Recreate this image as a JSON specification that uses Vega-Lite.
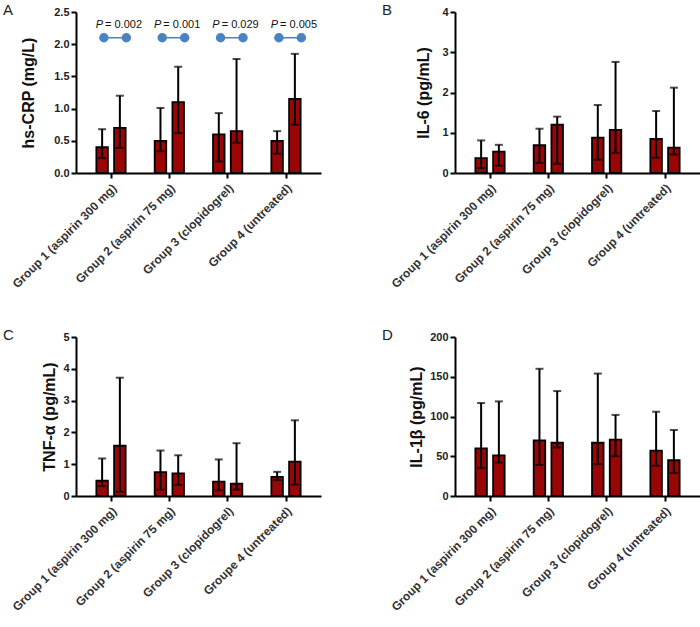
{
  "$schema": "https://vega.github.io/schema/vega-lite/v6.json",
  "background": "white",
  "padding": {"left": 3, "top": 3, "right": 0, "bottom": 0},
  "datasets": {
    "crp": [
      {"group": "Group 1 (aspirin 300 mg)", "series": "a", "value": 0.40, "lo": 0.23, "hi": 0.68},
      {"group": "Group 1 (aspirin 300 mg)", "series": "b", "value": 0.70, "lo": 0.39, "hi": 1.20},
      {"group": "Group 2 (aspirin 75 mg)", "series": "a", "value": 0.50, "lo": 0.34, "hi": 1.01},
      {"group": "Group 2 (aspirin 75 mg)", "series": "b", "value": 1.10, "lo": 0.62, "hi": 1.65},
      {"group": "Group 3 (clopidogrel)", "series": "a", "value": 0.60, "lo": 0.18, "hi": 0.93},
      {"group": "Group 3 (clopidogrel)", "series": "b", "value": 0.65, "lo": 0.47, "hi": 1.77},
      {"group": "Group 4 (untreated)", "series": "a", "value": 0.50, "lo": 0.30, "hi": 0.65},
      {"group": "Group 4 (untreated)", "series": "b", "value": 1.15, "lo": 0.75, "hi": 1.85}
    ],
    "pdots": [
      {"group": "Group 1 (aspirin 300 mg)", "series": "a", "y": 2.1},
      {"group": "Group 1 (aspirin 300 mg)", "series": "b", "y": 2.1},
      {"group": "Group 2 (aspirin 75 mg)", "series": "a", "y": 2.1},
      {"group": "Group 2 (aspirin 75 mg)", "series": "b", "y": 2.1},
      {"group": "Group 3 (clopidogrel)", "series": "a", "y": 2.1},
      {"group": "Group 3 (clopidogrel)", "series": "b", "y": 2.1},
      {"group": "Group 4 (untreated)", "series": "a", "y": 2.1},
      {"group": "Group 4 (untreated)", "series": "b", "y": 2.1}
    ],
    "ptext": [
      {"group": "Group 1 (aspirin 300 mg)", "p": "= 0.002", "y": 2.3},
      {"group": "Group 2 (aspirin 75 mg)", "p": "= 0.001", "y": 2.3},
      {"group": "Group 3 (clopidogrel)", "p": "= 0.029", "y": 2.3},
      {"group": "Group 4 (untreated)", "p": "= 0.005", "y": 2.3}
    ],
    "il6": [
      {"group": "Group 1 (aspirin 300 mg)", "series": "a", "value": 0.37, "lo": 0.12, "hi": 0.81},
      {"group": "Group 1 (aspirin 300 mg)", "series": "b", "value": 0.53, "lo": 0.18, "hi": 0.70},
      {"group": "Group 2 (aspirin 75 mg)", "series": "a", "value": 0.69, "lo": 0.25, "hi": 1.10},
      {"group": "Group 2 (aspirin 75 mg)", "series": "b", "value": 1.20, "lo": 0.23, "hi": 1.40},
      {"group": "Group 3 (clopidogrel)", "series": "a", "value": 0.88, "lo": 0.33, "hi": 1.69},
      {"group": "Group 3 (clopidogrel)", "series": "b", "value": 1.07, "lo": 0.50, "hi": 2.76},
      {"group": "Group 4 (untreated)", "series": "a", "value": 0.85, "lo": 0.38, "hi": 1.54},
      {"group": "Group 4 (untreated)", "series": "b", "value": 0.63, "lo": 0.46, "hi": 2.12}
    ],
    "tnf": [
      {"group": "Group 1 (aspirin 300 mg)", "series": "a", "value": 0.48, "lo": 0.31, "hi": 1.18},
      {"group": "Group 1 (aspirin 300 mg)", "series": "b", "value": 1.58, "lo": 0.13, "hi": 3.72},
      {"group": "Group 2 (aspirin 75 mg)", "series": "a", "value": 0.75, "lo": 0.20, "hi": 1.43},
      {"group": "Group 2 (aspirin 75 mg)", "series": "b", "value": 0.71, "lo": 0.35, "hi": 1.28},
      {"group": "Group 3 (clopidogrel)", "series": "a", "value": 0.45, "lo": 0.18, "hi": 1.15},
      {"group": "Group 3 (clopidogrel)", "series": "b", "value": 0.39, "lo": 0.20, "hi": 1.66},
      {"group": "Groupe 4 (untreated)", "series": "a", "value": 0.60, "lo": 0.50, "hi": 0.76},
      {"group": "Groupe 4 (untreated)", "series": "b", "value": 1.08, "lo": 0.36, "hi": 2.38}
    ],
    "il1b": [
      {"group": "Group 1 (aspirin 300 mg)", "series": "a", "value": 60, "lo": 35, "hi": 117},
      {"group": "Group 1 (aspirin 300 mg)", "series": "b", "value": 51, "lo": 42, "hi": 119},
      {"group": "Group 2 (aspirin 75 mg)", "series": "a", "value": 70, "lo": 39, "hi": 160},
      {"group": "Group 2 (aspirin 75 mg)", "series": "b", "value": 67, "lo": 61, "hi": 132},
      {"group": "Group 3 (clopidogrel)", "series": "a", "value": 67, "lo": 40, "hi": 154},
      {"group": "Group 3 (clopidogrel)", "series": "b", "value": 71, "lo": 50, "hi": 102},
      {"group": "Group 4 (untreated)", "series": "a", "value": 57, "lo": 38, "hi": 106},
      {"group": "Group 4 (untreated)", "series": "b", "value": 45, "lo": 29, "hi": 83}
    ]
  },
  "columns": 2,
  "spacing": {"row": 164, "column": 134},
  "bounds": "flush",
  "concat": [
    {
      "width": 245, "height": 161,
      "title": {"text": "A"},
      "resolve": {"scale": {"xOffset": "independent"}},
      "layer": [
        {
          "data": {"name": "crp"},
          "mark": {"type": "bar", "color": "#9a0606", "stroke": "black", "strokeWidth": 1.8},
          "encoding": {
            "x": {"field": "group", "type": "nominal", "sort": null, "title": null},
            "xOffset": {"field": "series", "type": "nominal"},
            "y": {"field": "value", "type": "quantitative", "title": "hs-CRP (mg/L)", "scale": {"domain": [0, 2.5], "nice": false}, "axis": {"values": [0, 0.5, 1, 1.5, 2, 2.5], "format": ".1f", "titlePadding": 17}}
          }
        },
        {
          "data": {"name": "crp"},
          "mark": {"type": "rule", "color": "black", "strokeWidth": 2},
          "encoding": {
            "x": {"field": "group", "type": "nominal", "sort": null, "title": null},
            "xOffset": {"field": "series", "type": "nominal"},
            "y": {"field": "lo", "type": "quantitative", "title": "hs-CRP (mg/L)", "axis": {"values": [0, 0.5, 1, 1.5, 2, 2.5], "format": ".1f", "titlePadding": 17}},
            "y2": {"field": "hi"}
          }
        },
        {
          "data": {"name": "crp"},
          "mark": {"type": "tick", "color": "black", "size": 8, "thickness": 2},
          "encoding": {
            "x": {"field": "group", "type": "nominal", "sort": null, "title": null},
            "xOffset": {"field": "series", "type": "nominal"},
            "y": {"field": "hi", "type": "quantitative", "title": "hs-CRP (mg/L)", "axis": {"values": [0, 0.5, 1, 1.5, 2, 2.5], "format": ".1f", "titlePadding": 17}}
          }
        },
        {
          "data": {"name": "crp"},
          "mark": {"type": "tick", "color": "black", "size": 8, "thickness": 2},
          "encoding": {
            "x": {"field": "group", "type": "nominal", "sort": null, "title": null},
            "xOffset": {"field": "series", "type": "nominal"},
            "y": {"field": "lo", "type": "quantitative", "title": "hs-CRP (mg/L)", "axis": {"values": [0, 0.5, 1, 1.5, 2, 2.5], "format": ".1f", "titlePadding": 17}}
          }
        },
        {
          "data": {"name": "pdots"},
          "mark": {"type": "line", "color": "#4a83c4", "strokeWidth": 1.5},
          "encoding": {
            "x": {"field": "group", "type": "nominal", "sort": null, "title": null},
            "xOffset": {"field": "series", "type": "nominal", "scale": {"type": "point", "padding": 0.54, "align": 0.67}},
            "y": {"field": "y", "type": "quantitative", "title": "hs-CRP (mg/L)", "axis": {"values": [0, 0.5, 1, 1.5, 2, 2.5], "format": ".1f", "titlePadding": 17}},
            "detail": {"field": "group"}
          }
        },
        {
          "data": {"name": "pdots"},
          "mark": {"type": "point", "filled": true, "color": "#4a83c4", "opacity": 1, "size": 90},
          "encoding": {
            "x": {"field": "group", "type": "nominal", "sort": null, "title": null},
            "xOffset": {"field": "series", "type": "nominal", "scale": {"type": "point", "padding": 0.54, "align": 0.67}},
            "y": {"field": "y", "type": "quantitative", "title": "hs-CRP (mg/L)", "axis": {"values": [0, 0.5, 1, 1.5, 2, 2.5], "format": ".1f", "titlePadding": 17}}
          }
        },
        {
          "data": {"name": "ptext"},
          "mark": {"type": "text", "text": "P", "fontStyle": "italic", "align": "right", "dx": -8, "fontSize": 11, "color": "#111"},
          "encoding": {
            "x": {"field": "group", "type": "nominal", "sort": null, "title": null},
            "y": {"field": "y", "type": "quantitative", "title": "hs-CRP (mg/L)", "axis": {"values": [0, 0.5, 1, 1.5, 2, 2.5], "format": ".1f", "titlePadding": 17}}
          }
        },
        {
          "data": {"name": "ptext"},
          "mark": {"type": "text", "align": "left", "dx": -6, "fontSize": 11, "color": "#111"},
          "encoding": {
            "x": {"field": "group", "type": "nominal", "sort": null, "title": null},
            "y": {"field": "y", "type": "quantitative", "title": "hs-CRP (mg/L)", "axis": {"values": [0, 0.5, 1, 1.5, 2, 2.5], "format": ".1f", "titlePadding": 17}},
            "text": {"field": "p"}
          }
        }
      ]
    },
    {
      "width": 245, "height": 161,
      "title": {"text": "B"},
      "data": {"name": "il6"},
      "encoding": {
        "x": {"field": "group", "type": "nominal", "sort": null, "title": null},
        "xOffset": {"field": "series", "type": "nominal"}
      },
      "layer": [
        {
          "mark": {"type": "bar", "color": "#9a0606", "stroke": "black", "strokeWidth": 1.8},
          "encoding": {"y": {"field": "value", "type": "quantitative", "title": "IL-6 (pg/mL)", "scale": {"domain": [0, 4], "nice": false}, "axis": {"values": [0, 1, 2, 3, 4], "titlePadding": 10}}}
        },
        {
          "mark": {"type": "rule", "color": "black", "strokeWidth": 2},
          "encoding": {"y": {"field": "lo", "type": "quantitative", "title": "IL-6 (pg/mL)", "axis": {"values": [0, 1, 2, 3, 4], "titlePadding": 10}}, "y2": {"field": "hi"}}
        },
        {
          "mark": {"type": "tick", "color": "black", "size": 8, "thickness": 2},
          "encoding": {"y": {"field": "hi", "type": "quantitative", "title": "IL-6 (pg/mL)", "axis": {"values": [0, 1, 2, 3, 4], "titlePadding": 10}}}
        },
        {
          "mark": {"type": "tick", "color": "black", "size": 8, "thickness": 2},
          "encoding": {"y": {"field": "lo", "type": "quantitative", "title": "IL-6 (pg/mL)", "axis": {"values": [0, 1, 2, 3, 4], "titlePadding": 10}}}
        }
      ]
    },
    {
      "width": 245, "height": 159,
      "title": {"text": "C"},
      "data": {"name": "tnf"},
      "encoding": {
        "x": {"field": "group", "type": "nominal", "sort": null, "title": null},
        "xOffset": {"field": "series", "type": "nominal"}
      },
      "layer": [
        {
          "mark": {"type": "bar", "color": "#9a0606", "stroke": "black", "strokeWidth": 1.8},
          "encoding": {"y": {"field": "value", "type": "quantitative", "title": "TNF-α (pg/mL)", "scale": {"domain": [0, 5], "nice": false}, "axis": {"values": [0, 1, 2, 3, 4, 5], "titlePadding": 5}}}
        },
        {
          "mark": {"type": "rule", "color": "black", "strokeWidth": 2},
          "encoding": {"y": {"field": "lo", "type": "quantitative", "title": "TNF-α (pg/mL)", "axis": {"values": [0, 1, 2, 3, 4, 5], "titlePadding": 5}}, "y2": {"field": "hi"}}
        },
        {
          "mark": {"type": "tick", "color": "black", "size": 8, "thickness": 2},
          "encoding": {"y": {"field": "hi", "type": "quantitative", "title": "TNF-α (pg/mL)", "axis": {"values": [0, 1, 2, 3, 4, 5], "titlePadding": 5}}}
        },
        {
          "mark": {"type": "tick", "color": "black", "size": 8, "thickness": 2},
          "encoding": {"y": {"field": "lo", "type": "quantitative", "title": "TNF-α (pg/mL)", "axis": {"values": [0, 1, 2, 3, 4, 5], "titlePadding": 5}}}
        }
      ]
    },
    {
      "width": 245, "height": 159,
      "title": {"text": "D"},
      "data": {"name": "il1b"},
      "encoding": {
        "x": {"field": "group", "type": "nominal", "sort": null, "title": null},
        "xOffset": {"field": "series", "type": "nominal"}
      },
      "layer": [
        {
          "mark": {"type": "bar", "color": "#9a0606", "stroke": "black", "strokeWidth": 1.8},
          "encoding": {"y": {"field": "value", "type": "quantitative", "title": "IL-1β (pg/mL)", "scale": {"domain": [0, 200], "nice": false}, "axis": {"values": [0, 50, 100, 150, 200], "titlePadding": 5}}}
        },
        {
          "mark": {"type": "rule", "color": "black", "strokeWidth": 2},
          "encoding": {"y": {"field": "lo", "type": "quantitative", "title": "IL-1β (pg/mL)", "axis": {"values": [0, 50, 100, 150, 200], "titlePadding": 5}}, "y2": {"field": "hi"}}
        },
        {
          "mark": {"type": "tick", "color": "black", "size": 8, "thickness": 2},
          "encoding": {"y": {"field": "hi", "type": "quantitative", "title": "IL-1β (pg/mL)", "axis": {"values": [0, 50, 100, 150, 200], "titlePadding": 5}}}
        },
        {
          "mark": {"type": "tick", "color": "black", "size": 8, "thickness": 2},
          "encoding": {"y": {"field": "lo", "type": "quantitative", "title": "IL-1β (pg/mL)", "axis": {"values": [0, 50, 100, 150, 200], "titlePadding": 5}}}
        }
      ]
    }
  ],
  "config": {
    "font": "Liberation Sans",
    "view": {"stroke": null},
    "scale": {"bandPaddingInner": 0, "bandPaddingOuter": 0.04, "offsetBandPaddingInner": 0.35, "offsetBandPaddingOuter": 0.49},
    "axis": {
      "grid": false,
      "domainColor": "black", "domainWidth": 2,
      "tickColor": "black", "tickWidth": 2, "tickSize": 5,
      "labelFont": "Liberation Sans", "labelFontSize": 11, "labelFontWeight": "bold", "labelColor": "#222",
      "titleFont": "Liberation Sans", "titleFontSize": 16, "titleFontWeight": "bold", "titleColor": "#111"
    },
    "axisX": {"labelAngle": -45, "labelFontWeight": "bold", "labelFontSize": 12, "labelColor": "#333", "labelPadding": 4},
    "title": {"anchor": "start", "frame": "group", "dx": -73, "offset": -12, "fontSize": 15, "fontWeight": "normal", "color": "#222", "font": "Liberation Sans"}
  }
}
